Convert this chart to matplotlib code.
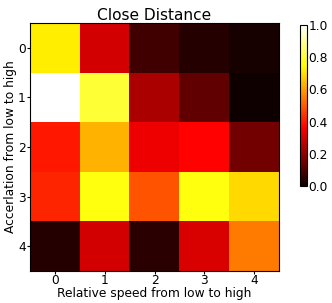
import matplotlib
matplotlib.use("Agg")
import matplotlib.pyplot as plt
import numpy as np

row0 = [0.72, 0.30, 0.085, 0.04, 0.02]
row1 = [1.00, 0.80, 0.24, 0.13, 0.01]
row2 = [0.40, 0.63, 0.34, 0.37, 0.16]
row3 = [0.42, 0.76, 0.49, 0.76, 0.69]
row4 = [0.04, 0.30, 0.05, 0.31, 0.55]
x_ticks = [0, 1, 2, 3, 4]
y_ticks = [0, 1, 2, 3, 4]

data = np.array([row0, row1, row2, row3, row4])

fs = 8.8
fig = plt.figure(figsize=(3.32, 3.03), dpi=100)
ax = fig.add_axes([30/332, (303-271)/303, 249/332, 248/303])
im = ax.imshow(data, cmap='hot', vmin=0, vmax=1, interpolation='nearest', aspect='auto')
ax.set_xticks(x_ticks)
ax.set_yticks(y_ticks)
ax.tick_params(labelsize=fs, length=2, width=0.8, pad=1)
ax.tick_params(axis='x', pad=0.5)
ax.set_title('Close Distance', fontsize=11.1, pad=2)
ax.set_xlabel('Relative speed from low to high', fontsize=fs, labelpad=-0.5)
ax.set_ylabel('Accerlation from low to high', fontsize=fs, labelpad=1)

cax = fig.add_axes([300/332, (303-186)/303, 7/332, 161/303])
cb = fig.colorbar(im, cax=cax)
cb.set_ticks([0, 0.2, 0.4, 0.6, 0.8, 1.0])
cax.tick_params(labelsize=fs, length=0, pad=1)

fig.savefig('out.png', dpi=100)
